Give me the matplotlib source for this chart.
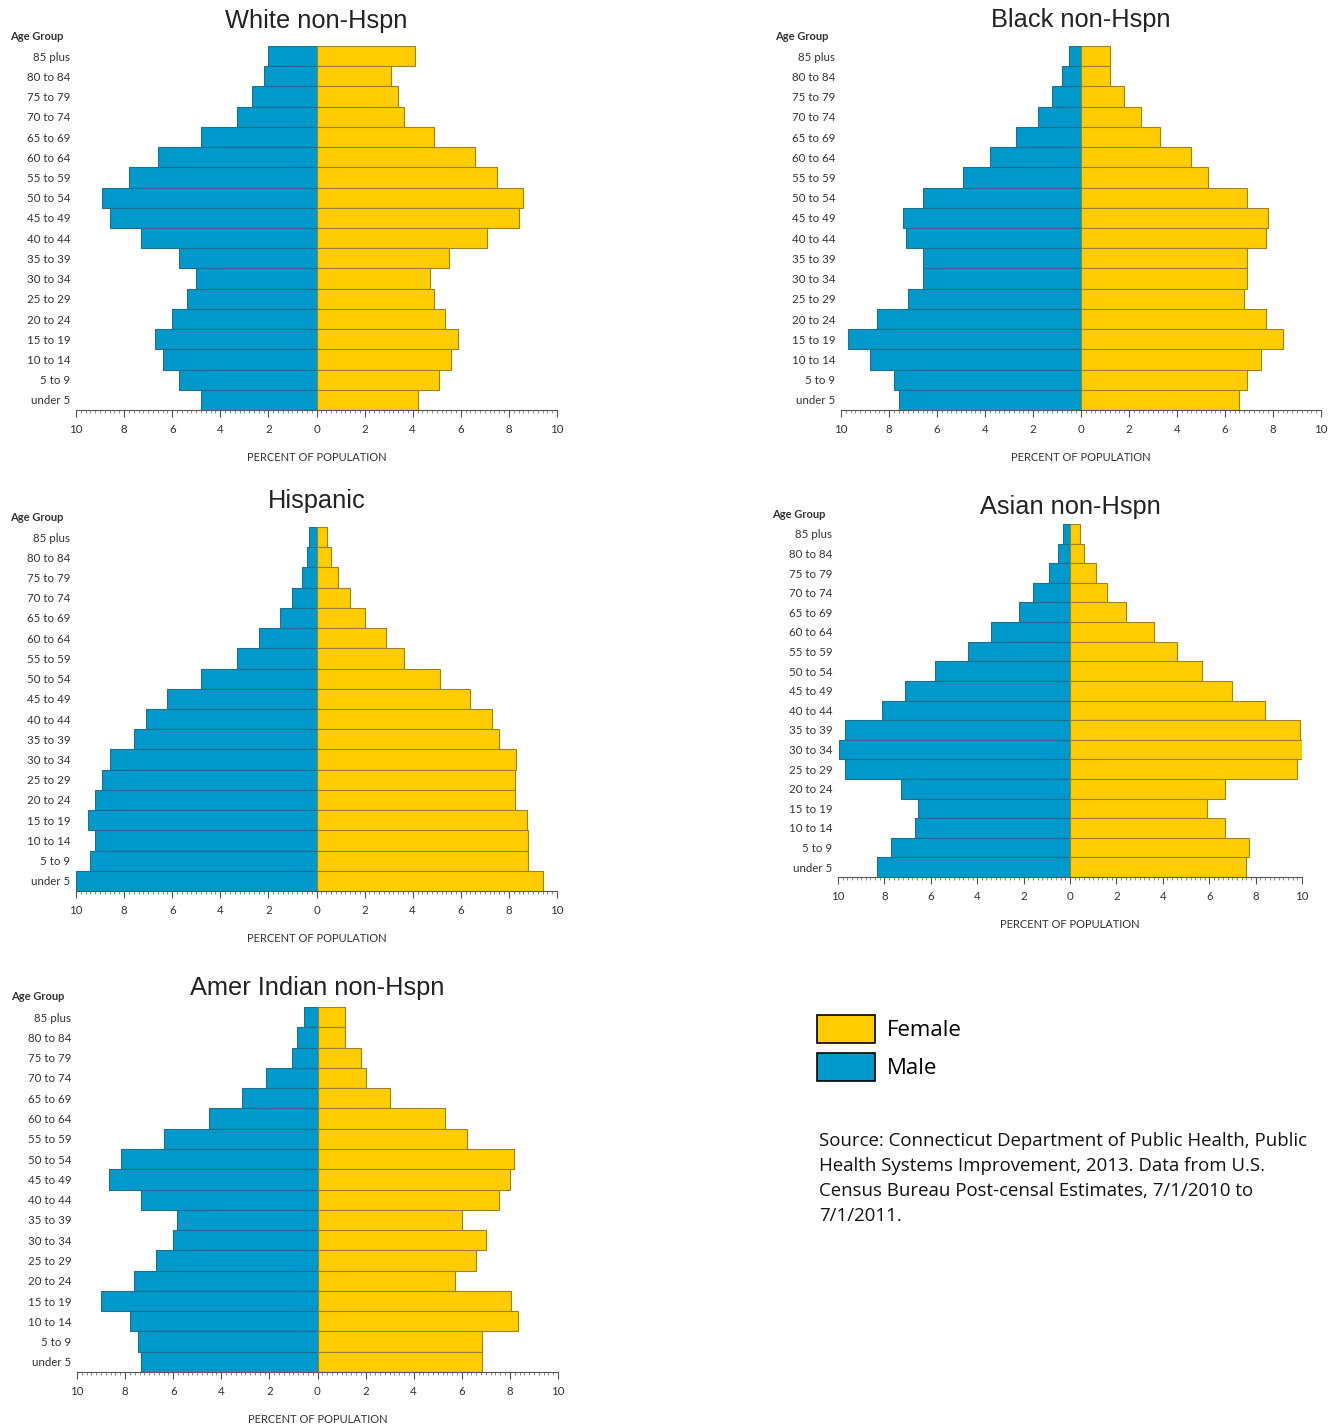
import matplotlib
matplotlib.use("Agg")
import matplotlib.pyplot as plt
from matplotlib.patches import Patch
from matplotlib.ticker import MultipleLocator

# age groups, top to bottom as in the picture
age_groups = ["85 plus", "80 to 84", "75 to 79", "70 to 74", "65 to 69", "60 to 64",
              "55 to 59", "50 to 54", "45 to 49", "40 to 44", "35 to 39", "30 to 34",
              "25 to 29", "20 to 24", "15 to 19", "10 to 14", "5 to 9", "under 5"]

white_male = [2.0, 2.2, 2.7, 3.3, 4.8, 6.6, 7.8, 8.9, 8.6, 7.3, 5.7, 5.0, 5.4, 6.0, 6.7, 6.4, 5.7, 4.8]
white_female = [4.1, 3.1, 3.4, 3.65, 4.9, 6.6, 7.5, 8.6, 8.4, 7.1, 5.5, 4.7, 4.9, 5.35, 5.9, 5.6, 5.1, 4.2]

black_male = [0.5, 0.8, 1.2, 1.8, 2.7, 3.8, 4.9, 6.6, 7.4, 7.3, 6.6, 6.6, 7.2, 8.5, 9.7, 8.8, 7.8, 7.6]
black_female = [1.2, 1.2, 1.8, 2.5, 3.3, 4.6, 5.3, 6.9, 7.8, 7.7, 6.9, 6.9, 6.8, 7.7, 8.4, 7.5, 6.9, 6.6]

hisp_male = [0.33, 0.4, 0.6, 1.0, 1.5, 2.4, 3.3, 4.8, 6.2, 7.1, 7.6, 8.6, 8.9, 9.2, 9.5, 9.2, 9.4, 10.0]
hisp_female = [0.45, 0.6, 0.9, 1.4, 2.0, 2.9, 3.65, 5.15, 6.4, 7.3, 7.6, 8.3, 8.25, 8.25, 8.75, 8.8, 8.8, 9.4]

asian_male = [0.3, 0.5, 0.9, 1.6, 2.2, 3.4, 4.4, 5.8, 7.1, 8.1, 9.7, 9.95, 9.7, 7.3, 6.55, 6.7, 7.7, 8.3]
asian_female = [0.43, 0.6, 1.1, 1.6, 2.4, 3.6, 4.6, 5.7, 7.0, 8.4, 9.9, 10.0, 9.8, 6.7, 5.9, 6.7, 7.7, 7.6]

amind_male = [0.55, 0.85, 1.05, 2.15, 3.15, 4.5, 6.4, 8.15, 8.65, 7.35, 5.85, 6.0, 6.7, 7.65, 9.0, 7.8, 7.45, 7.35]
amind_female = [1.15, 1.15, 1.8, 2.0, 3.0, 5.3, 6.2, 8.15, 8.0, 7.55, 6.0, 7.0, 6.6, 5.7, 8.05, 8.35, 6.85, 6.85]

tick_vals = [-10, -8, -6, -4, -2, 0, 2, 4, 6, 8, 10]
tick_labels = ["10", "8", "6", "4", "2", "0", "2", "4", "6", "8", "10"]

MALE = "#0099cc"
FEMALE = "#ffcc00"
W, H = 1335, 1428

fig = plt.figure(figsize=(W / 100, H / 100), dpi=100)


def px_axes(x0, y0, x1, y1):
    return fig.add_axes([x0 / W, 1 - y1 / H, (x1 - x0) / W, (y1 - y0) / H])


def pyramid(box, title, title_y, male, female):
    x0, y0, x1, y1 = box
    ax = px_axes(x0, y0, x1, y1)
    n = len(age_groups)
    ypos = list(range(n - 1, -1, -1))
    ax.barh(ypos, [-m for m in male], height=1.0, color=MALE, edgecolor="#1f6f8f", linewidth=0.8)
    ax.barh(ypos, female, height=1.0, color=FEMALE, edgecolor="#9a8420", linewidth=0.8)
    ax.set_xlim(-10, 10)
    ax.set_ylim(-0.5, n - 0.5)
    ax.set_yticks(ypos)
    ax.set_yticklabels(age_groups, fontsize=8.3, color="#333333", family="Lato")
    ax.tick_params(axis="y", length=0, pad=4)
    ax.xaxis.set_minor_locator(MultipleLocator(0.2))
    ax.set_xticks(tick_vals)
    ax.set_xticklabels(tick_labels, fontsize=8.3, color="#333333", family="Lato")
    ax.tick_params(axis="x", which="major", length=5, width=0.8, color="#555555", pad=5)
    ax.tick_params(axis="x", which="minor", length=2.5, width=0.6, color="#777777")
    for s in ["left", "right", "top"]:
        ax.spines[s].set_visible(False)
    ax.spines["bottom"].set_color("#555555")
    ax.spines["bottom"].set_linewidth(0.8)
    ax.set_xlabel("PERCENT OF POPULATION", fontsize=8, color="#333333", family="Lato", labelpad=12)
    cx = (x0 + x1) / 2
    fig.text(cx / W, 1 - title_y / H, title, ha="center", va="center",
             fontsize=18.3, family="Liberation Sans", color="#222222")
    fig.text((x0 - 66) / W, 1 - (y0 - 10) / H, "Age Group", ha="left", va="center",
             fontsize=8, color="#333333", family="Lato", fontweight="bold")
    return ax


pyramid((76, 46, 557, 410), "White non-Hspn", 21, white_male, white_female)
pyramid((841, 46, 1321, 410), "Black non-Hspn", 20, black_male, black_female)
pyramid((76, 527, 557, 891), "Hispanic", 501, hisp_male, hisp_female)
pyramid((838, 524, 1302, 877), "Asian non-Hspn", 507, asian_male, asian_female)
pyramid((77, 1007, 558, 1372), "Amer Indian non-Hspn", 988, amind_male, amind_female)

handles = [Patch(facecolor=FEMALE, edgecolor="black", linewidth=1.2),
           Patch(facecolor=MALE, edgecolor="black", linewidth=1.2)]
fig.legend(handles, ["Female", "Male"], loc="upper left",
           bbox_to_anchor=(797 / W, 1 - 995 / H), frameon=False,
           prop={"family": "Open Sans", "size": 16},
           handlelength=2.6, handleheight=1.56, labelspacing=0.45, handletextpad=0.54)

source = ("Source: Connecticut Department of Public Health, Public\n"
          "Health Systems Improvement, 2013. Data from U.S.\n"
          "Census Bureau Post-censal Estimates, 7/1/2010 to\n"
          "7/1/2011.")
fig.text(819 / W, 1 - 1132 / H, source, ha="left", va="top", fontsize=13.4,
         family="Open Sans", color="#111111", linespacing=1.5)

fig.savefig("out.png", dpi=100)
